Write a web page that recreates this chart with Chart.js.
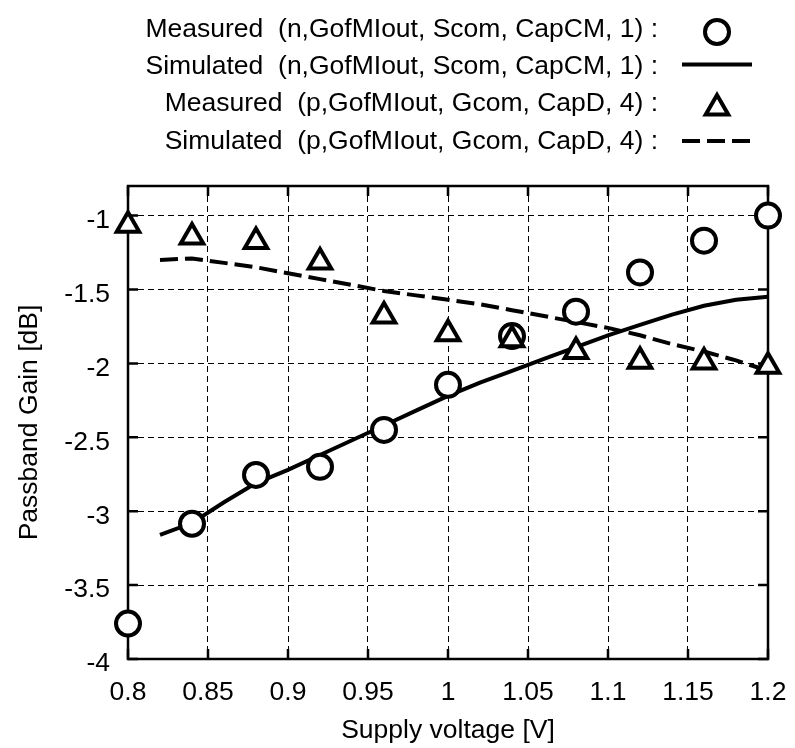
<!DOCTYPE html>
<html><head><meta charset="utf-8">
<script src="https://cdn.jsdelivr.net/npm/chart.js@4.4.1/dist/chart.umd.min.js"></script>
<style>html,body{margin:0;padding:0;background:#fff}#wrap{width:795px;height:748px}</style>
</head><body><div id="wrap"><canvas id="c" width="795" height="748"></canvas></div>
<script>
// ---- data ----
const seriesLabels = [
  'Measured  (n,GofMIout, Scom, CapCM, 1) :',
  'Simulated  (n,GofMIout, Scom, CapCM, 1) :',
  'Measured  (p,GofMIout, Gcom, CapD, 4) :',
  'Simulated  (p,GofMIout, Gcom, CapD, 4) :'
];
const measuredX = [0.8, 0.84, 0.88, 0.92, 0.96, 1.0, 1.04, 1.08, 1.12, 1.16, 1.2];
const measuredN = [-3.76, -3.085, -2.755, -2.70, -2.45, -2.145, -1.815, -1.65, -1.385, -1.17, -1.0];
const measuredP = [-1.065, -1.145, -1.175, -1.315, -1.68, -1.80, -1.84, -1.92, -1.985, -1.99, -2.02];
const simX = [0.82, 0.84, 0.86, 0.88, 0.90, 0.92, 0.94, 0.96, 0.98, 1.00, 1.02, 1.04, 1.06, 1.08, 1.10, 1.12, 1.14, 1.16, 1.18, 1.20];
const simN = [-3.16, -3.08, -2.94, -2.81, -2.72, -2.62, -2.52, -2.42, -2.32, -2.22, -2.13, -2.05, -1.97, -1.89, -1.81, -1.74, -1.67, -1.61, -1.57, -1.55];
const simP = [-1.30, -1.29, -1.32, -1.35, -1.39, -1.43, -1.47, -1.51, -1.54, -1.57, -1.60, -1.64, -1.68, -1.72, -1.76, -1.81, -1.87, -1.92, -1.98, -2.05];
const xTicks = [0.8, 0.85, 0.9, 0.95, 1.0, 1.05, 1.1, 1.15, 1.2];
const xTickLabels = ['0.8', '0.85', '0.9', '0.95', '1', '1.05', '1.1', '1.15', '1.2'];
const yTicks = [-4, -3.5, -3, -2.5, -2, -1.5, -1];
const yTickLabels = ['-4', '-3.5', '-3', '-2.5', '-2', '-1.5', '-1'];
const xTitle = 'Supply voltage [V]';
const yTitle = 'Passband Gain [dB]';

const FONT = "'Liberation Sans', Arial, Helvetica, sans-serif";
const FSIZE = 26.5;
Chart.defaults.font.family = FONT;
Chart.defaults.font.size = FSIZE;
Chart.defaults.color = '#000';

const pts = (xs, ys) => xs.map((x, i) => ({x: x, y: ys[i]}));

// frame + inward tick marks
const framePlugin = {
  id: 'frame',
  beforeDatasetsDraw(chart) {
    const {ctx, chartArea: a, scales} = chart;
    ctx.save();
    ctx.setLineDash([]);
    ctx.strokeStyle = '#000';
    ctx.lineWidth = 2.5;
    const L = 10;
    ctx.beginPath();
    xTicks.forEach(v => {
      const px = scales.x.getPixelForValue(v);
      ctx.moveTo(px, a.bottom); ctx.lineTo(px, a.bottom - L);
      ctx.moveTo(px, a.top); ctx.lineTo(px, a.top + L);
    });
    yTicks.forEach(v => {
      const py = scales.y.getPixelForValue(v);
      ctx.moveTo(a.left, py); ctx.lineTo(a.left + L, py);
      ctx.moveTo(a.right, py); ctx.lineTo(a.right - L, py);
    });
    ctx.stroke();
    ctx.lineJoin = 'miter';
    ctx.strokeRect(a.left, a.top, a.right - a.left, a.bottom - a.top);
    ctx.restore();
  }
};

// custom legend: right aligned text, symbol on the right
const legendPlugin = {
  id: 'customLegend',
  afterDraw(chart) {
    const ctx = chart.ctx;
    const textRight = 658;
    const baselines = [37, 74, 111, 149];
    const symY = [32, 64.5, 108, 141];
    const symX = 717, lineX0 = 682, lineX1 = 752;
    ctx.save();
    ctx.font = FSIZE + 'px ' + FONT;
    ctx.fillStyle = '#000';
    ctx.textAlign = 'right';
    ctx.textBaseline = 'alphabetic';
    chart.data.datasets.forEach((ds, i) => {
      ctx.fillText(ds.label, textRight, baselines[i]);
      ctx.strokeStyle = '#000';
      if (ds.showLine) {
        ctx.lineWidth = ds.borderWidth;
        ctx.setLineDash(ds.borderDash || []);
        ctx.beginPath();
        ctx.moveTo(lineX0, symY[i]);
        ctx.lineTo(lineX1, symY[i]);
        ctx.stroke();
        ctx.setLineDash([]);
      } else {
        ctx.fillStyle = '#fff';
        ctx.lineWidth = ds.borderWidth;
        Chart.helpers.drawPoint(ctx, {pointStyle: ds.pointStyle, radius: ds.pointRadius, borderWidth: ds.borderWidth, rotation: 0}, symX, symY[i]);
        ctx.fillStyle = '#000';
      }
    });
    ctx.restore();
  }
};

new Chart(document.getElementById('c'), {
  type: 'scatter',
  data: {
    datasets: [
      {label: seriesLabels[0], data: pts(measuredX, measuredN), showLine: false, pointStyle: 'circle', pointRadius: 12, pointHoverRadius: 12, borderWidth: 4, borderColor: '#000', backgroundColor: '#fff', order: 2, clip: false},
      {label: seriesLabels[1], data: pts(simX, simN), showLine: true, pointRadius: 0, pointHoverRadius: 0, borderWidth: 4, borderColor: '#000', backgroundColor: '#000', tension: 0, order: 4, clip: false},
      {label: seriesLabels[2], data: pts(measuredX, measuredP), showLine: false, pointStyle: 'triangle', pointRadius: 13, pointHoverRadius: 13, borderWidth: 4, borderColor: '#000', backgroundColor: '#fff', order: 1, clip: false},
      {label: seriesLabels[3], data: pts(simX, simP), showLine: true, pointRadius: 0, pointHoverRadius: 0, borderWidth: 4, borderColor: '#000', backgroundColor: '#000', borderDash: [18, 7], tension: 0, order: 3, clip: false}
    ]
  },
  options: {
    responsive: false,
    animation: false,
    devicePixelRatio: 1,
    layout: {padding: {top: 186, right: 27, bottom: 0, left: 0}},
    plugins: {legend: {display: false}, tooltip: {enabled: false}},
    scales: {
      x: {
        type: 'linear', min: 0.8, max: 1.2,
        afterFit: s => { s.height = 89; s.paddingLeft = 0; s.paddingRight = 0; },
        afterBuildTicks: s => { s.ticks = xTicks.map(v => ({value: v})); },
        ticks: {padding: 18, autoSkip: false, maxRotation: 0, callback: (v, i) => xTickLabels[i]},
        grid: {color: '#000', lineWidth: 1, drawTicks: false, borderDash: [6, 4]},
        border: {display: false, dash: [6, 4]},
        title: {display: true, text: xTitle, padding: {top: 0, bottom: 1}}
      },
      y: {
        type: 'linear', min: -4, max: -0.8,
        afterFit: s => { s.width = 128; s.paddingTop = 0; s.paddingBottom = 0; },
        afterBuildTicks: s => { s.ticks = yTicks.map(v => ({value: v})); },
        ticks: {padding: 18, labelOffset: 5, autoSkip: false, callback: (v, i) => yTickLabels[i]},
        grid: {color: '#000', lineWidth: 1, drawTicks: false, borderDash: [6, 4]},
        border: {display: false, dash: [6, 4]},
        title: {display: true, text: yTitle, padding: {top: 14, bottom: 0}}
      }
    }
  },
  plugins: [framePlugin, legendPlugin]
});
</script>
</body></html>
